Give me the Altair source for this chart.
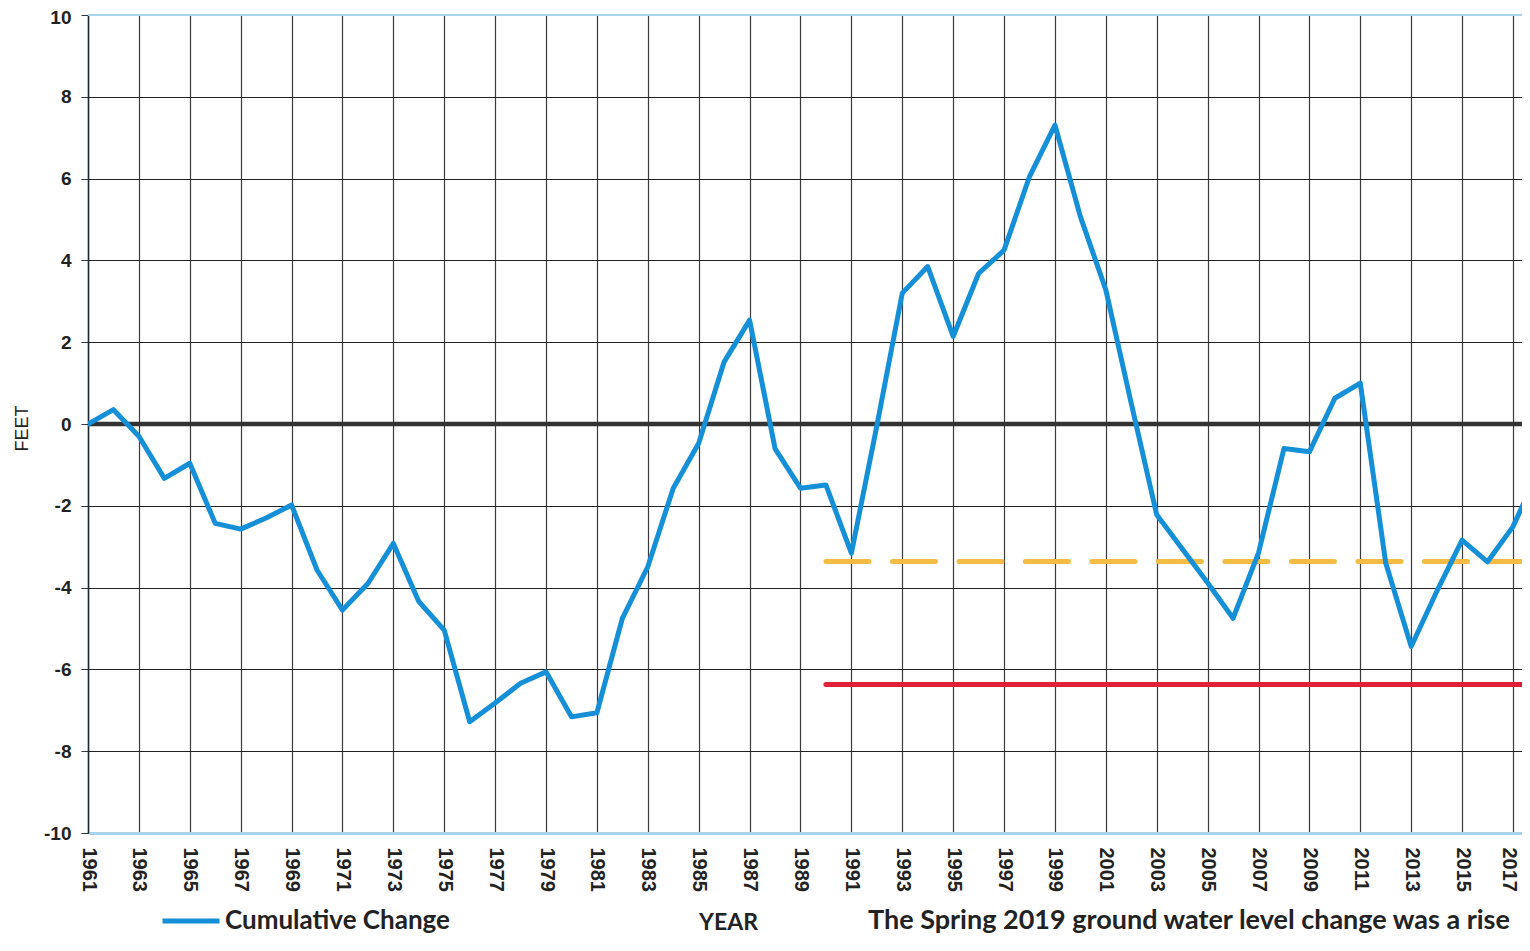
import altair as alt
import pandas as pd

# ---- data ----
years = list(range(1961, 2019))
cumulative_change = [
    0.0, 0.35, -0.3, -1.33, -0.96, -2.43, -2.57, -2.3, -1.98, -3.57,
    -4.55, -3.9, -2.92, -4.34, -5.04, -7.28, -6.82, -6.34, -6.06, -7.16,
    -7.06, -4.75, -3.49, -1.57, -0.47, 1.52, 2.54, -0.6, -1.57, -1.49,
    -3.16, -0.05, 3.2, 3.85, 2.14, 3.68, 4.25, 6.05, 7.31, 5.07,
    3.28, 0.5, -2.22, -3.05, -3.88, -4.75, -3.15, -0.6, -0.68, 0.63,
    1.0, -3.4, -5.44, -4.1, -2.84, -3.37, -2.51, -1.15,
]
series_name = "Cumulative Change"

ref_start = [1990, 1990]
ref_end = [2017.355, 2017.355]
ref_level = [-3.36, -6.37]
ref_kind = ["dashed", "solid"]

x_ticks = list(range(1961, 2018, 2))
y_ticks = list(range(-10, 11, 2))
x_domain = [1961, 2017.355]
y_domain = [-10, 10]

caption = "The Spring 2019 ground water level change was a rise"

BLUE = "#1590D8"
ORANGE = "#F2BC45"
RED = "#E3203A"
LIGHTBLUE = "#A9D4EE"

df = pd.DataFrame({"year": years, "feet": cumulative_change,
                   "series": [series_name] * len(years)})
refs = pd.DataFrame({"start": ref_start, "end": ref_end,
                     "level": ref_level, "kind": ref_kind})

xscale = alt.Scale(domain=x_domain, nice=False, zero=False)
yscale = alt.Scale(domain=y_domain, nice=False, zero=False)

x_axis = alt.Axis(
    values=x_ticks, format="d", labelAngle=90, labelFont="Liberation Sans",
    labelFontSize=20, labelFontWeight="bold", labelColor="#222",
    labelPadding=14, ticks=False, domainColor=LIGHTBLUE, domainWidth=3,
    labelOffset={"condition": {"test": "datum.value === 2017", "value": -4},
                 "value": 0},
    grid=True, gridColor="#3a3a3a", gridWidth=1.2, labelOverlap=False,
    title="YEAR", titleFont="Lato", titleFontSize=23, titleFontWeight="bold",
    titleColor="#222", titleX=640, titleY=96, titleBaseline="alphabetic",
    titleAlign="center",
)
y_axis = alt.Axis(
    values=y_ticks, labelExpr="'' + datum.value", labelFont="Liberation Sans",
    labelFontSize=19, labelFontWeight="bold", labelColor="#222",
    labelPadding=10, tickSize=7, tickColor="#333", domainColor="#1d2733",
    labelOffset={"condition": {"test": "datum.value === 10", "value": 2},
                 "value": 0},
    domainWidth=1.5, grid=True, gridColor="#222", gridWidth=1,
    title="FEET", titleFont="Liberation Sans", titleFontSize=18,
    titleFontWeight="normal", titleColor="#222", titleX=-66, titleY=413,
    titleAngle=-90, titleAlign="center", titleBaseline="middle",
)

base_line = alt.Chart(df).mark_line(
    strokeWidth=5, strokeJoin="round", strokeCap="round", clip=True
).encode(
    x=alt.X("year:Q", scale=xscale, axis=x_axis),
    y=alt.Y("feet:Q", scale=yscale, axis=y_axis),
    color=alt.Color(
        "series:N",
        scale=alt.Scale(domain=[series_name], range=[BLUE]),
        legend=alt.Legend(
            orient="none", legendX=72, legendY=875, title=None,
            symbolType="stroke", symbolSize=3249, symbolStrokeWidth=5,
            labelFont="Lato", labelFontSize=26, labelFontWeight="bold",
            labelColor="#222", labelOffset=3, labelLimit=400,
        ),
    ),
)

zero_rule = alt.Chart(pd.DataFrame({"v": [0]})).mark_rule(
    color="#333", strokeWidth=4.5
).encode(y=alt.Y("v:Q", scale=yscale))

top_rule = alt.Chart(pd.DataFrame({"v": [10]})).mark_rule(
    color=LIGHTBLUE, strokeWidth=2
).encode(y=alt.Y("v:Q", scale=yscale))

dashed = alt.Chart(refs[refs.kind == "dashed"]).mark_rule(
    color=ORANGE, strokeWidth=5, strokeDash=[43, 23.5], strokeCap="round"
).encode(
    x=alt.X("start:Q", scale=xscale), x2="end:Q",
    y=alt.Y("level:Q", scale=yscale),
)
solid = alt.Chart(refs[refs.kind == "solid"]).mark_rule(
    color=RED, strokeWidth=5, strokeCap="round"
).encode(
    x=alt.X("start:Q", scale=xscale), x2="end:Q",
    y=alt.Y("level:Q", scale=yscale),
)

caption_text = alt.Chart(pd.DataFrame({"t": [caption]})).mark_text(
    align="left", baseline="alphabetic", font="Lato", fontSize=27,
    fontWeight="bold", color="#222"
).encode(x=alt.value(780), y=alt.value(914), text="t:N")

chart = alt.layer(
    zero_rule, top_rule, dashed, solid, base_line, caption_text
).properties(
    width=1434, height=818,
    autosize=alt.AutoSizeParams(type="none"),
    padding={"left": 80, "top": 7, "right": 0, "bottom": 105},
    background="white",
).configure_view(stroke=None)

chart.save("out.html", embed_options={"renderer": "svg", "actions": False})
